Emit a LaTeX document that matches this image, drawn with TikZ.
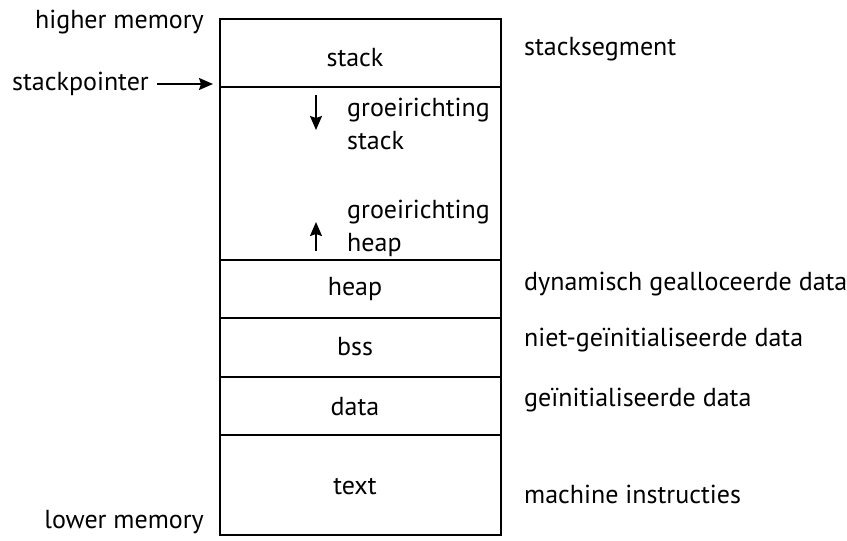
\documentclass[tikz,border=0pt]{standalone}
\usepackage{fontspec}
\setmainfont{PT Sans}
\usetikzlibrary{arrows.meta}
\begin{document}
\begin{tikzpicture}[x=1pt,y=-1pt,
  lbl/.style={font=\fontsize{26}{33}\selectfont, inner sep=0pt},
  seg/.style={draw, line width=2pt},
  arr/.style={line width=1.8pt, -{Stealth[length=14pt,width=12pt,inset=2pt]}}]
\useasboundingbox (0,0) rectangle (847,541);
% segments
\node[seg, minimum width=281pt, minimum height=68pt, anchor=north west, inner sep=0pt] (stack) at (219,18) {};
\node[seg, minimum width=281pt, minimum height=173pt, anchor=north west, inner sep=0pt] (free) at (219,86) {};
\node[seg, minimum width=281pt, minimum height=58pt, anchor=north west, inner sep=0pt] (heap) at (219,259) {};
\node[seg, minimum width=281pt, minimum height=59pt, anchor=north west, inner sep=0pt] (bss) at (219,317) {};
\node[seg, minimum width=281pt, minimum height=58pt, anchor=north west, inner sep=0pt] (data) at (219,376) {};
\node[seg, minimum width=281pt, minimum height=100pt, anchor=north west, inner sep=0pt] (text) at (219,434) {};
% inner labels
\node[lbl] (tstack) at (355,58) {stack};
\node[lbl] (theap) at (355,289) {heap};
\node[lbl] (tbss) at (355,347) {bss};
\node[lbl] (tdata) at (355,407) {data};
\node[lbl] (ttext) at (355,487) {text};
\node[lbl, anchor=west, align=left] (gs) at (347,124) {groeirichting\\stack};
\node[lbl, anchor=west, align=left] (gh) at (347,228) {groeirichting\\heap};
\coordinate (sd1) at (316,95);
\coordinate (sd2) at (316,130);
\coordinate (hu1) at (316,251);
\coordinate (hu2) at (316,222);
\draw[arr] (sd1) -- (sd2);
\draw[arr] (hu1) -- (hu2);
% left labels
\node[lbl, anchor=east] (hm) at (204,22) {higher memory};
\node[lbl, anchor=east] (lm) at (204,522) {lower memory};
\node[lbl, anchor=west] (sp) at (12,84) {stackpointer};
\coordinate (spt) at (213,84);
\coordinate (sps) at (157,84);
\draw[arr] (sps) -- (spt);
% right labels
\node[lbl, anchor=west] (r1) at (524,49) {stacksegment};
\node[lbl, anchor=west] (r2) at (524,284) {dynamisch gealloceerde data};
\node[lbl, anchor=west] (r3) at (524,340) {niet-geïnitialiseerde data};
\node[lbl, anchor=west] (r4) at (524,400) {geïnitialiseerde data};
\node[lbl, anchor=west] (r5) at (524,494) {machine instructies};
\end{tikzpicture}
\end{document}
